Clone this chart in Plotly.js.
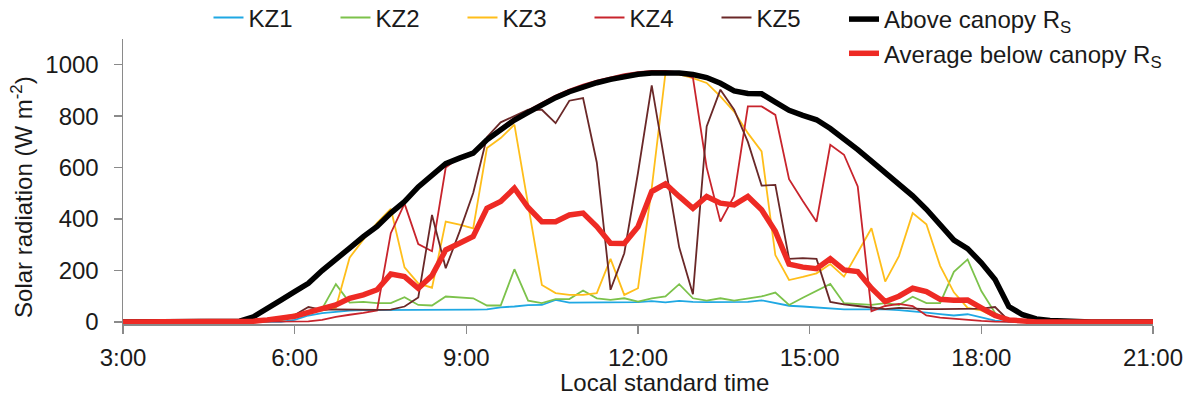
<!DOCTYPE html>
<html>
<head>
<meta charset="utf-8">
<script src="https://cdn.plot.ly/plotly-3.0.1.min.js"></script>
<style>
html,body{margin:0;padding:0;background:#ffffff;}
#chart{width:1199px;height:402px;}
</style>
</head>
<body>
<div id="chart"></div>
<script>
// Sample times as fractions of a day (one sample every 0.01 day)
const timeDayFraction = [0.12,0.13,0.14,0.15,0.16,0.17,0.18,0.19,0.20,0.21,0.22,0.23,0.24,0.25,0.26,0.27,0.28,0.29,0.30,0.31,0.32,0.33,0.34,0.35,0.36,0.37,0.38,0.39,0.40,0.41,0.42,0.43,0.44,0.45,0.46,0.47,0.48,0.49,0.50,0.51,0.52,0.53,0.54,0.55,0.56,0.57,0.58,0.59,0.60,0.61,0.62,0.63,0.64,0.65,0.66,0.67,0.68,0.69,0.70,0.71,0.72,0.73,0.74,0.75,0.76,0.77,0.78,0.79,0.80,0.81,0.82,0.83,0.84,0.85,0.86,0.87,0.88];

const kz1 = [0,0,0,0,0,0,0,0,0, 0,0,0,0,8,25,34,40,44,46, 46,46,46,46,46,46,47,48,49,57, 60,65,66,86,75,75,76,77,76,77, 81,76,82,78,77,77,77,78,84,74, 63,60,57,52,49,49,49,49,46,42, 36,30,25,30,17,5,0,0,0,0, 0,0,0,0,0,0,0,0];
const kz2 = [0,0,0,0,0,0,0,0,0, 0,0,2,6,20,42,52,147,75,78, 73,73,96,66,64,99,95,92,64,64, 205,83,73,89,89,122,92,86,92,79, 92,99,147,92,83,92,83,92,99,114, 66,94,122,148,73,70,66,73,66,98, 73,73,195,243,120,35,5,0,0,0, 0,0,0,0,0,0,0,0];
const kz3 = [0,0,0,0,0,0,0,0,0, 0,2,8,18,28,40,45,55,250,320, 385,440,212,150,133,390,378,364,676,715, 767,455,144,112,105,105,112,245,105,131, 520,968,962,948,929,877,818,734,663,260, 163,175,189,225,176,270,364,157,256,423, 380,218,115,55,45,20,5,0,0,0, 0,0,0,0,0,0,0,0];
const kz4 = [0,0,0,0,0,0,0,0,0, 0,0,0,0,0,2,8,20,28,35, 45,345,460,303,275,600,640,662,714,752, 793,823,853,880,903,923,938,951,963,971, 976,976,970,950,600,390,490,838,838,805, 555,470,390,689,650,527,42,62,70,62, 25,17,12,8,4,1,0,0,0,0, 0,0,0,0,0,0,0,0];
const kz5 = [0,0,0,0,0,0,0,0,0, 0,2,5,15,27,58,47,49,48,47, 47,48,60,95,416,209,350,501,718,776, 799,825,825,773,860,870,620,125,267,580, 920,600,290,108,760,903,825,700,530,533, 245,248,245,78,68,62,55,50,55,52, 50,50,50,50,52,58,5,0,0,0, 0,0,0,0,0,0,0,0];
const aboveCanopy = [0,0,0,0,0,0,0,0,0, 3,20,50,85,118,150,200,241,287,332, 371,423,468,525,570,615,637,656,708,745, 785,815,845,872,895,915,930,943,955,963, 968,970,968,962,950,928,898,888,887,855, 823,803,786,752,712,670,625,580,540,490, 438,378,318,285,230,165,60,28,12,6, 3,1,0,0,0,0,0,0];
const averageBelow = [0,0,0,0,0,0,0,0,0, 0,3,8,14,22,37,50,66,92,105, 125,186,176,131,180,280,306,332,442,468, 520,445,390,390,416,423,371,306,305,370, 507,537,488,442,488,462,455,488,436,352, 225,213,207,246,202,196,131,79,100,131, 118,88,84,85,55,25,8,2,0,0, 0,0,0,0,0,0,0,0];

const tickHours = [3,6,9,12,15,18,21];
const tickLabels = ['3:00','6:00','9:00','12:00','15:00','18:00','21:00'];
const yTicks = [0,200,400,600,800,1000];

const hours = timeDayFraction.map(d => d * 24);

const seriesDefs = [
  {name:'KZ1', y:kz1, color:'#1fa8e3', width:1.8, legend:'legend', group:'g1'},
  {name:'KZ2', y:kz2, color:'#7cc24b', width:1.8, legend:'legend', group:'g2'},
  {name:'KZ3', y:kz3, color:'#ffbe1a', width:1.8, legend:'legend', group:'g3'},
  {name:'KZ4', y:kz4, color:'#c8242c', width:1.8, legend:'legend', group:'g4'},
  {name:'KZ5', y:kz5, color:'#6a2828', width:1.8, legend:'legend', group:'g5'},
  {name:'Above canopy R<sub>S</sub>', y:aboveCanopy, color:'#000000', width:5.5, legend:'legend2', group:'g6'},
  {name:'Average below canopy R<sub>S</sub>', y:averageBelow, color:'#ee2a24', width:5.5, legend:'legend2', group:'g7'}
];

const traces = seriesDefs.map(s => ({
  type:'scatter', mode:'lines', x:hours, y:s.y, name:s.name,
  line:{color:s.color, width:s.width, shape:'linear'},
  legend:s.legend, legendgroup:s.group, hoverinfo:'skip'
}));

const font = {family:'"Liberation Sans", Arial, sans-serif', size:24, color:'#1a1a1a'};

const layout = {
  width:1199, height:402,
  paper_bgcolor:'#ffffff', plot_bgcolor:'#ffffff',
  margin:{l:123, r:46, t:39, b:78, autoexpand:false},
  font:font,
  showlegend:true,
  xaxis:{
    range:[3,21], tickmode:'array', tickvals:tickHours, ticktext:tickLabels,
    showline:true, linecolor:'#8a8a8a', linewidth:1.5,
    ticks:'outside', ticklen:8, tickwidth:1.5, tickcolor:'#8a8a8a',
    showgrid:false, zeroline:false, tickfont:font, ticklabelstandoff:4,
    fixedrange:true
  },
  yaxis:{
    range:[-8,1100], tickmode:'array', tickvals:yTicks,
    showline:true, linecolor:'#8a8a8a', linewidth:1.5,
    ticks:'outside', ticklen:8, tickwidth:1.5, tickcolor:'#8a8a8a',
    showgrid:false, zeroline:false, tickfont:font, ticklabelstandoff:10,
    fixedrange:true
  },
  legend:{
    orientation:'h', x:0.083, xanchor:'left', y:1.074, yanchor:'middle',
    font:font, bgcolor:'rgba(0,0,0,0)', borderwidth:0,
    entrywidth:82, entrywidthmode:'pixels', itemwidth:30, traceorder:'normal'
  },
  legend2:{
    orientation:'v', x:0.700, xanchor:'left', y:1.0088, yanchor:'middle',
    font:font, bgcolor:'rgba(0,0,0,0)', borderwidth:0, itemwidth:30,
    traceorder:'normal', tracegroupgap:5
  },
  annotations:[
    {text:'Solar radiation (W m<sup>-2</sup>)', xref:'paper', yref:'paper',
     x:-0.098, y:0.446, xanchor:'center', yanchor:'middle', textangle:-90,
     showarrow:false, font:font},
    {text:'Local standard time', xref:'paper', yref:'paper',
     x:0.526, y:-0.207, xanchor:'center', yanchor:'middle',
     showarrow:false, font:font}
  ]
};

Plotly.newPlot('chart', traces, layout, {displayModeBar:false, staticPlot:true});
</script>
</body>
</html>
